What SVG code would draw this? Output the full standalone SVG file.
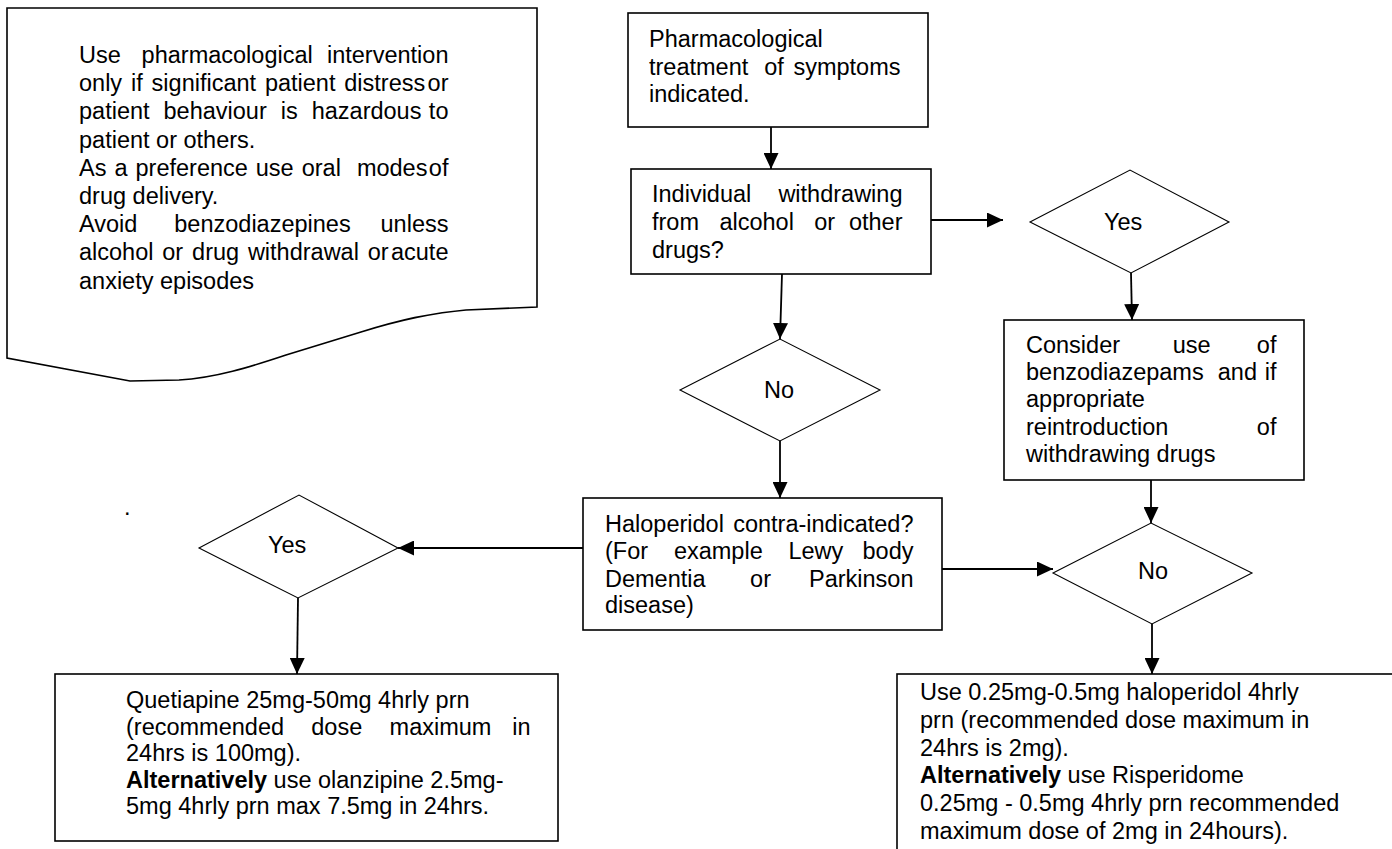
<svg xmlns="http://www.w3.org/2000/svg" width="1392" height="849" viewBox="0 0 1392 849">
<style>
.shape{fill:#fff;stroke:#000;stroke-width:1.6}
.dia{fill:#fff;stroke:#000;stroke-width:1.1}
.t{font-family:"Liberation Sans",Arial,sans-serif;font-size:23.5px;fill:#000}
.b{font-weight:bold}
.e{text-anchor:end}
.c{stroke:#000;stroke-width:1.8;fill:none}
</style>
<defs>
<marker id="ah" markerUnits="userSpaceOnUse" markerWidth="16" markerHeight="15" refX="16" refY="7.5" orient="auto">
<path d="M0,0 L16,7.5 L0,15 Z" fill="#000"/>
</marker>
</defs>
<rect width="1392" height="849" fill="#fff"/>

<g id="connectors">
<line class="c" x1="771" y1="127" x2="771" y2="169" marker-end="url(#ah)"/>
<line class="c" x1="931" y1="220" x2="1003" y2="220" marker-end="url(#ah)"/>
<line class="c" x1="782" y1="274" x2="780" y2="339" marker-end="url(#ah)"/>
<line class="c" x1="780" y1="441" x2="780" y2="498" marker-end="url(#ah)"/>
<line class="c" x1="1131" y1="273" x2="1132" y2="320" marker-end="url(#ah)"/>
<line class="c" x1="1151" y1="480" x2="1151" y2="523" marker-end="url(#ah)"/>
<line class="c" x1="583" y1="548" x2="398" y2="548" marker-end="url(#ah)"/>
<line class="c" x1="940" y1="569" x2="1053" y2="569" marker-end="url(#ah)"/>
<line class="c" x1="298" y1="598" x2="297" y2="674" marker-end="url(#ah)"/>
<line class="c" x1="1152" y1="624" x2="1152" y2="674" marker-end="url(#ah)"/>
</g>

<g id="note">
<path class="shape" d="M7,8 L537,8 L537,307 L466,310 C430,313 400,320 361,332 L286,355 C250,367 215,378 179,380 L130,381 L7,358 Z"/>
<text class="t">
<tspan x="79" y="63">Use</tspan><tspan x="141.6" y="63">pharmacological</tspan><tspan class="e" x="455" y="63">intervention</tspan>
<tspan x="79" y="91.2">only</tspan><tspan x="131" y="91.2">if</tspan><tspan x="151.6" y="91.2">significant</tspan><tspan x="264.9" y="91.2">patient</tspan><tspan x="344.3" y="91.2">distress</tspan><tspan class="e" x="455" y="91.2">or</tspan>
<tspan x="79" y="119.4">patient</tspan><tspan x="163.5" y="119.4">behaviour</tspan><tspan x="280.7" y="119.4">is</tspan><tspan x="311.7" y="119.4">hazardous</tspan><tspan class="e" x="455" y="119.4">to</tspan>
<tspan x="79" y="147.6">patient or others.</tspan>
<tspan x="79" y="175.8">As</tspan><tspan x="114.4" y="175.8">a</tspan><tspan x="135.5" y="175.8">preference</tspan><tspan x="255.8" y="175.8">use</tspan><tspan x="301.7" y="175.8">oral</tspan><tspan x="356.9" y="175.8">modes</tspan><tspan class="e" x="455" y="175.8">of</tspan>
<tspan x="79" y="204">drug delivery.</tspan>
<tspan x="79" y="232.2">Avoid</tspan><tspan x="174.3" y="232.2">benzodiazepines</tspan><tspan class="e" x="455" y="232.2">unless</tspan>
<tspan x="79" y="260.4">alcohol</tspan><tspan x="162.3" y="260.4">or</tspan><tspan x="192.1" y="260.4">drug</tspan><tspan x="247.9" y="260.4">withdrawal</tspan><tspan x="367.8" y="260.4">or</tspan><tspan class="e" x="455" y="260.4">acute</tspan>
<tspan x="79" y="288.6">anxiety episodes</tspan>
</text>
</g>

<g id="start">
<rect class="shape" x="628" y="13" width="300" height="114"/>
<text class="t">
<tspan x="649" y="47">Pharmacological</tspan>
<tspan x="649" y="74.5">treatment</tspan><tspan x="764.3" y="74.5">of</tspan><tspan class="e" x="907" y="74.5">symptoms</tspan>
<tspan x="649" y="102">indicated.</tspan>
</text>
</g>

<g id="withdrawing">
<rect class="shape" x="631" y="169" width="300" height="105"/>
<text class="t">
<tspan x="652" y="202">Individual</tspan><tspan class="e" x="909" y="202">withdrawing</tspan>
<tspan x="652" y="230">from</tspan><tspan x="719.4" y="230">alcohol</tspan><tspan x="814.2" y="230">or</tspan><tspan class="e" x="909" y="230">other</tspan>
<tspan x="652" y="258">drugs?</tspan>
</text>
</g>

<g id="yes-top">
<polygon class="dia" points="1030,222 1130,170 1229,222 1131,273"/>
<text class="t" x="1104" y="230">Yes</text>
</g>

<g id="no-top">
<polygon class="dia" points="680,390 780,339 880,390 780,441"/>
<text class="t" x="764" y="398">No</text>
</g>

<g id="benzo">
<rect class="shape" x="1004" y="320" width="300" height="160"/>
<text class="t">
<tspan x="1026" y="353">Consider</tspan><tspan x="1172.8" y="353">use</tspan><tspan class="e" x="1283" y="353">of</tspan>
<tspan x="1026" y="380">benzodiazepams</tspan><tspan x="1217.8" y="380">and</tspan><tspan class="e" x="1283" y="380">if</tspan>
<tspan x="1026" y="407">appropriate</tspan>
<tspan x="1026" y="434.5">reintroduction</tspan><tspan class="e" x="1283" y="434.5">of</tspan>
<tspan x="1026" y="462">withdrawing drugs</tspan>
</text>
</g>

<g id="haloperidol-q">
<rect class="shape" x="583" y="498" width="359" height="132"/>
<text class="t">
<tspan x="605" y="532">Haloperidol</tspan><tspan class="e" x="920" y="532">contra-indicated?</tspan>
<tspan x="605" y="559">(For</tspan><tspan x="673.9" y="559">example</tspan><tspan x="788.4" y="559">Lewy</tspan><tspan class="e" x="920" y="559">body</tspan>
<tspan x="605" y="586.5">Dementia</tspan><tspan x="750.1" y="586.5">or</tspan><tspan class="e" x="920" y="586.5">Parkinson</tspan>
<tspan x="605" y="613">disease)</tspan>
</text>
</g>

<g id="dot">
<text class="t" x="124" y="515">.</text>
</g>

<g id="yes-bottom">
<polygon class="dia" points="199,548 299,495 398,548 298,598"/>
<text class="t" x="268" y="553">Yes</text>
</g>

<g id="no-bottom">
<polygon class="dia" points="1053,573 1151,523 1252,573 1152,624"/>
<text class="t" x="1138" y="579">No</text>
</g>

<g id="quetiapine">
<rect class="shape" x="55" y="674" width="503" height="167"/>
<text class="t">
<tspan x="126" y="708">Quetiapine 25mg-50mg 4hrly prn</tspan>
<tspan x="126" y="734.5">(recommended</tspan><tspan x="311.3" y="734.5">dose</tspan><tspan x="389.6" y="734.5">maximum</tspan><tspan class="e" x="537" y="734.5">in</tspan>
<tspan x="126" y="761">24hrs is 100mg).</tspan>
<tspan x="126" y="787.5"><tspan class="b">Alternatively</tspan> use olanzipine 2.5mg-</tspan>
<tspan x="126" y="814">5mg 4hrly prn max 7.5mg in 24hrs.</tspan>
</text>
</g>

<g id="haloperidol-dose">
<rect class="shape" x="897" y="674" width="520" height="200"/>
<text class="t">
<tspan x="920" y="700">Use 0.25mg-0.5mg haloperidol 4hrly</tspan>
<tspan x="920" y="727.8">prn (recommended dose maximum in</tspan>
<tspan x="920" y="755.6">24hrs is 2mg).</tspan>
<tspan x="920" y="783.4"><tspan class="b">Alternatively</tspan> use Risperidome</tspan>
<tspan x="920" y="811.2">0.25mg - 0.5mg 4hrly prn recommended</tspan>
<tspan x="920" y="839">maximum dose of 2mg in 24hours).</tspan>
</text>
</g>
</svg>
